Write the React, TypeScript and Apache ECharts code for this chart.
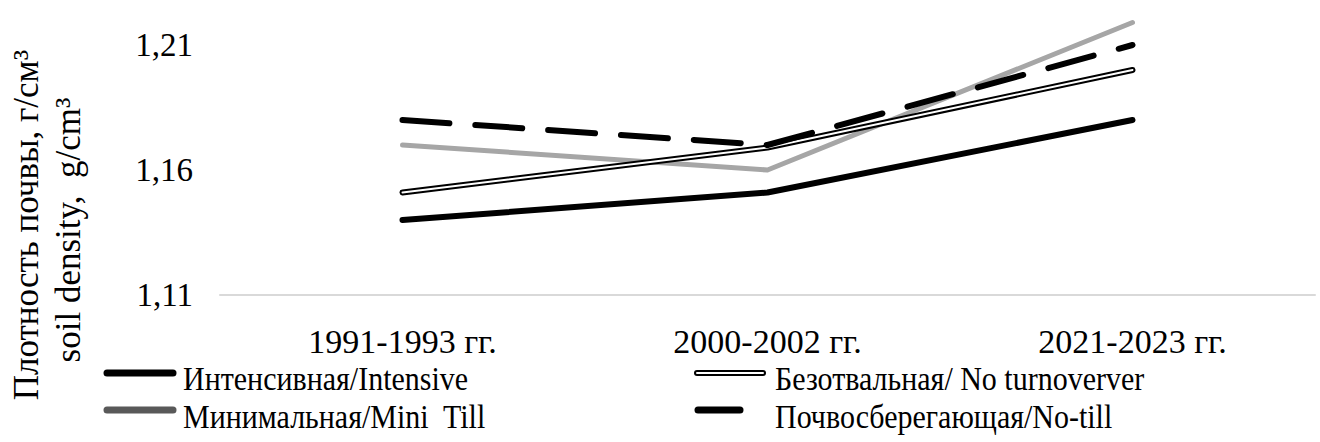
import React, { useEffect, useRef } from "react";
import * as echarts from "echarts";

const categories = ["1991-1993 гг.", "2000-2002 гг.", "2021-2023 гг."];
const intensive = [1.14, 1.151, 1.18];
const noTurnover = [1.151, 1.169, 1.2];
const miniTill = [1.17, 1.16, 1.219];
const noTill = [1.18, 1.17, 1.21];
const yTicks = [1.11, 1.16, 1.21];
const legendNames = [
  "Интенсивная/Intensive",
  "Безотвальная/ No turnoverver",
  "Минимальная/Mini  Till",
  "Почвосберегающая/No-till",
];
const yNameLines = ["Плотность почвы, г/см³", "soil density,  g/cm³"];

const FONT = "Liberation Serif";

export default function App() {
  const ref = useRef<HTMLDivElement>(null);
  useEffect(() => {
    if (!ref.current) return;
    const chart = echarts.init(ref.current, undefined, { renderer: "svg" });
    const legText = (text: string, x: number, y: number) => ({
      type: "text",
      x,
      y,
      scaleY: 1.15,
      style: {
        text,
        fill: "#000",
        fontSize: 30,
        fontFamily: FONT,
        align: "left",
        verticalAlign: "middle",
      },
    });
    const legLine = (x1: number, x2: number, y: number, stroke: string, w: number) => ({
      type: "line",
      shape: { x1, y1: y, x2, y2: y },
      style: { stroke, lineWidth: w, lineCap: "round" },
    });
    const nameText = (text: string, x: number, y: number) => ({
      type: "text",
      x,
      y,
      rotation: Math.PI / 2,
      style: {
        text,
        fill: "#000",
        fontSize: 35,
        fontFamily: FONT,
        align: "center",
        verticalAlign: "middle",
      },
    });
    chart.setOption({
      animation: false,
      backgroundColor: "#fff",
      textStyle: { fontFamily: FONT },
      grid: { left: 220, right: 5, top: 20, bottom: 147, containLabel: false },
      xAxis: {
        type: "category",
        data: categories,
        boundaryGap: true,
        axisLine: { show: true, lineStyle: { color: "#d9d9d9", width: 2 } },
        axisTick: { show: false },
        axisLabel: { color: "#000", fontSize: 34, fontFamily: FONT, margin: 29 },
        splitLine: { show: false },
      },
      yAxis: {
        type: "value",
        min: 1.11,
        max: 1.22,
        interval: 0.05,
        axisLine: { show: false },
        axisTick: { show: false },
        splitLine: { show: false },
        axisLabel: {
          color: "#000",
          fontSize: 33,
          fontFamily: FONT,
          margin: 27,
          formatter: (v: number) =>
            yTicks.some((t) => Math.abs(t - v) < 1e-6) ? v.toFixed(2).replace(".", ",") : "",
        },
      },
      series: [
        {
          name: legendNames[2],
          type: "line",
          data: miniTill,
          showSymbol: false,
          lineStyle: { color: "#a6a6a6", width: 5, cap: "round", join: "round" },
          z: 2,
        },
        {
          name: legendNames[0],
          type: "line",
          data: intensive,
          showSymbol: false,
          lineStyle: { color: "#000", width: 6, cap: "round", join: "round" },
          z: 3,
        },
        {
          name: legendNames[1],
          type: "line",
          data: noTurnover,
          showSymbol: false,
          lineStyle: { color: "#000", width: 6, cap: "round", join: "round" },
          z: 4,
        },
        {
          name: legendNames[1] + " inner",
          type: "line",
          data: noTurnover,
          showSymbol: false,
          lineStyle: { color: "#fff", width: 2, cap: "round", join: "round" },
          z: 5,
        },
        {
          name: legendNames[3],
          type: "line",
          data: noTill,
          showSymbol: false,
          lineStyle: { color: "#000", width: 6, type: [47, 26], cap: "round", join: "round" },
          z: 6,
        },
      ],
      graphic: [
        nameText(yNameLines[0], 26, 225),
        nameText(yNameLines[1], 68, 230),
        legLine(107, 173, 373, "#000", 7),
        legText(legendNames[0], 183, 378),
        legLine(107, 173, 410, "#595959", 7),
        legText(legendNames[2], 183, 416),
        legLine(697, 763, 373, "#000", 6),
        legLine(697, 763, 373, "#fff", 2),
        legText(legendNames[1], 775, 378),
        legLine(698, 740, 410, "#000", 7),
        legText(legendNames[3], 775, 416),
      ],
    });
    return () => chart.dispose();
  }, []);
  return (
    <div
      ref={ref}
      style={{ position: "absolute", left: 0, top: 0, width: 1320, height: 442 }}
    />
  );
}
